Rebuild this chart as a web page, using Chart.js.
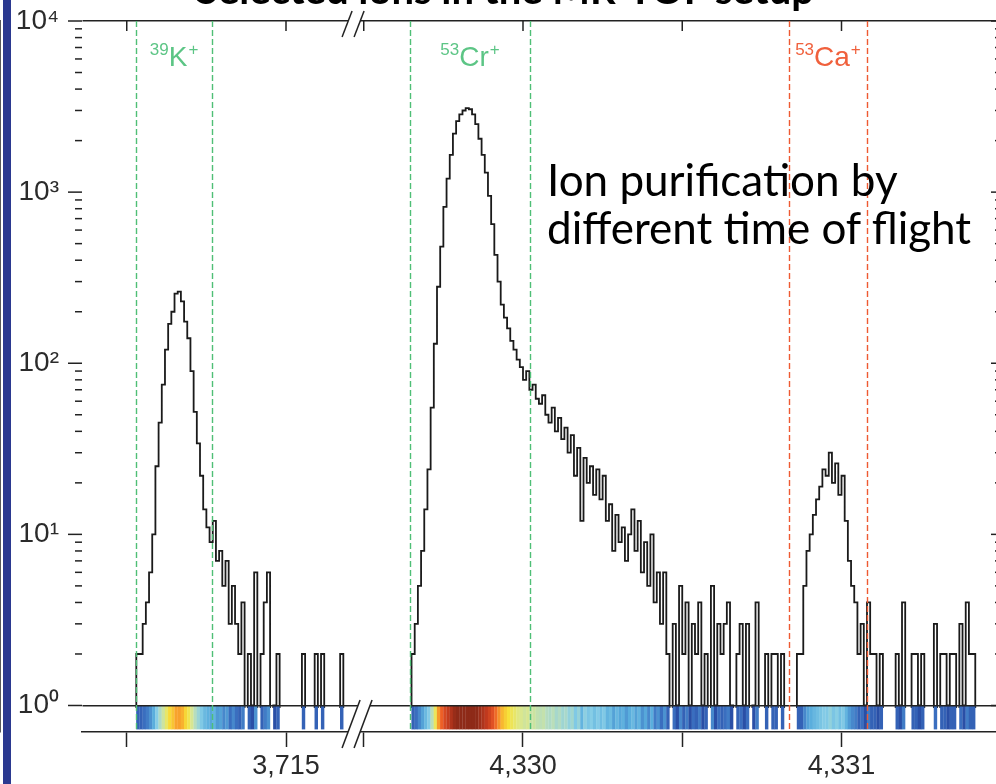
<!DOCTYPE html>
<html>
<head>
<meta charset="utf-8">
<script src="https://cdn.jsdelivr.net/npm/chart.js@4/dist/chart.umd.min.js"></script>
<style>
  html, body { margin:0; padding:0; background:#fff; }
  body { width:996px; height:784px; overflow:hidden; position:relative; }
  #c { position:absolute; left:0; top:0; }
  #sidebar { position:absolute; left:3px; top:0; width:8px; height:784px; background:#2b3990; }
  #title { position:absolute; left:196px; top:-31px; font:bold 40px Lato, "Open Sans", sans-serif; line-height:40px; color:#000; white-space:nowrap; }
  #note { position:absolute; left:547px; top:155px; font:44px Lato, "Open Sans", sans-serif; line-height:48px; color:#000; white-space:nowrap; }
</style>
</head>
<body>
<canvas id="c" width="1000" height="784"></canvas>
<div id="sidebar"></div>
<div id="title">Selected ions in the MR-TOF setup</div>
<div id="note">Ion purification by<br>different time of flight</div>
<script>
// ---------------- data ----------------
const BIN_WIDTH = 0.01;            // time-of-flight bin width
const LEFT_START = 3714.52;        // first bin of the left (39K) segment
const RIGHT_START = 4329.64;       // first bin of the right (53Cr / 53Ca) segment
const AXIS_SHIFT = 614.2559;       // axis break: right segment drawn shifted left by this amount
const BREAK_AT = 3715.22;          // where the "//" axis-break marks sit

const leftCounts = [0,2,2,3,4,6,10,25,45,75,120,170,200,255,262,230,175,140,90,52,
  34,22,14,11,9,12,7,8,5,7,3,5,3,2,4,0,2,1,6,0,
  2,4,6,0,1,2,0,0,0,0,0,0,0,2,0,0,0,2,0,2,
  0,0,0,0,0,2,0];

const rightCounts = [0,2,3,5,8,14,24,55,130,280,480,820,1200,1650,2200,2600,2850,3000,3100,3050,
  2850,2500,2050,1650,1300,950,650,430,300,220,185,160,135,120,105,95,80,90,70,75,
  62,58,65,50,45,55,40,48,36,42,30,38,22,32,12,28,20,25,17,24,
  16,22,12,15,8,13,9,11,7,10,14,8,12,6,9,5,10,4,6,3,
  6,2,0,3,1,5,2,4,1,3,2,4,1,2,0,5,1,3,2,3,
  4,1,0,2,3,1,3,0,1,4,0,0,2,0,2,2,0,2,0,0,
  0,0,2,2,5,8,10,13,16,19,24,22,30,20,26,17,22,12,7,5,
  4,2,3,1,4,2,2,1,2,0,0,0,0,2,1,4,0,0,2,2,
  1,2,0,0,0,3,0,2,2,1,2,2,0,3,1,4,2,2,0];

// x-axis ticks (time of flight) and their labels
const xTickTimes  = [3714.5, 3715, 4329.5, 4330, 4330.5, 4331];
const xTickLabels = ['', '3,715', '', '4,330', '', '4,331'];

// y-axis decades and labels
const yMajorTicks = [1, 10, 100, 1000, 10000];
const yTickLabels = ['10\u2070', '10\u00B9', '10\u00B2', '10\u00B3', '10\u2074'];
const yMinorFactors = [2, 3, 4, 5, 6, 7, 8, 9];

// selection windows
const windowMass  = ['39', '53', '53'];
const windowElem  = ['K', 'Cr', 'Ca'];
const windowStart = [3714.529, 4329.645, 4330.835];
const windowEnd   = [3714.768, 4330.022, 4331.080];
const windowColor = ['#4fbf76', '#4fbf76', '#ee5a32'];
const windowTextColor = ['#5cc585', '#5cc585', '#f0603c'];

// ---------------- helpers ----------------
const toAxis = t => (t > 4000 ? t - AXIS_SHIFT : t);
const Y_MIN = 0.7248;   // bottom of the colour strip under 10^0
const ZERO_LEVEL = 0.3; // empty bins drop below the 10^0 line

function buildLine() {
  const pts = [];
  const add = (start, counts) => {
    counts.forEach((c, i) => pts.push({x: toAxis(start + i * BIN_WIDTH), y: c > 0 ? c : ZERO_LEVEL}));
    const last = counts[counts.length - 1];
    pts.push({x: toAxis(start + counts.length * BIN_WIDTH), y: last > 0 ? last : ZERO_LEVEL});
  };
  add(LEFT_START, leftCounts);
  pts.push({x: toAxis(LEFT_START + (leftCounts.length + 0.5) * BIN_WIDTH), y: null});
  add(RIGHT_START, rightCounts);
  return pts;
}

const stops = [[0,[42,79,166]],[0.5,[59,111,192]],[1.0,[90,174,221]],[1.4,[134,205,230]],[1.7,[181,220,192]],
  [2.0,[221,232,138]],[2.2,[247,226,58]],[2.4,[248,165,44]],[2.7,[236,90,38]],[3.1,[194,58,30]],[3.4,[142,42,24]]];
function stripColor(c) {
  const v = Math.log10(c);
  if (v <= stops[0][0]) return `rgb(${stops[0][1].join(',')})`;
  for (let i = 1; i < stops.length; i++) {
    if (v <= stops[i][0]) {
      const [a, ca] = stops[i-1], [b, cb] = stops[i];
      const f = (v - a) / (b - a);
      const rgb = ca.map((x, k) => Math.round(x + (cb[k] - x) * f));
      return `rgb(${rgb.join(',')})`;
    }
  }
  return `rgb(${stops[stops.length-1][1].join(',')})`;
}
function buildStrip() {
  const pts = [], cols = [];
  const add = (start, counts) => counts.forEach((c, i) => {
    if (c > 0) {
      pts.push({x: toAxis(start + (i + 0.5) * BIN_WIDTH), y: [Y_MIN, 1]});
      cols.push(stripColor(c));
    }
  });
  add(LEFT_START, leftCounts);
  add(RIGHT_START, rightCounts);
  return {pts, cols};
}
const strip = buildStrip();

// ---------------- decorations drawn through the scales ----------------
const decor = {
  id: 'decor',
  afterDraw(chart) {
    const {ctx, chartArea: a, scales: {x, y}} = chart;
    const line = (x1, y1, x2, y2) => { ctx.beginPath(); ctx.moveTo(x1, y1); ctx.lineTo(x2, y2); ctx.stroke(); };
    ctx.save();
    // selection windows
    ctx.lineWidth = 1.4;
    ctx.setLineDash([6, 3]);
    windowStart.forEach((s, i) => {
      ctx.strokeStyle = windowColor[i];
      [s, windowEnd[i]].forEach(t => { const px = Math.round(x.getPixelForValue(toAxis(t))) + 0.5; line(px, a.top, px, a.bottom); });
    });
    ctx.setLineDash([]);
    // window labels
    windowStart.forEach((s, i) => {
      const cx = (x.getPixelForValue(toAxis(s)) + x.getPixelForValue(toAxis(windowEnd[i]))) / 2;
      const big = '28px "Liberation Sans", Arial, sans-serif', small = '17px "Liberation Sans", Arial, sans-serif';
      ctx.font = small; const w1 = ctx.measureText(windowMass[i]).width, w3 = ctx.measureText('+').width;
      ctx.font = big; const w2 = ctx.measureText(windowElem[i]).width;
      let px = cx - (w1 + w2 + w3 + 1) / 2;
      ctx.fillStyle = windowTextColor[i];
      ctx.textBaseline = 'alphabetic'; ctx.textAlign = 'left';
      ctx.font = small; ctx.fillText(windowMass[i], px, 55); px += w1;
      ctx.font = big; ctx.fillText(windowElem[i], px, 66); px += w2 + 1;
      ctx.font = small; ctx.fillText('+', px, 55);
    });
    // y ticks (left outside, right inside)
    ctx.strokeStyle = '#222'; ctx.lineWidth = 1.5;
    yMajorTicks.forEach((v, k) => {
      const py = y.getPixelForValue(v);
      line(a.left - 14, py, a.left, py);
      line(a.right - 8, py, a.right, py);
      if (k < yMajorTicks.length - 1) yMinorFactors.forEach(f => {
        const pm = y.getPixelForValue(v * f);
        line(a.left - 7, pm, a.left, pm);
        line(a.right - 4, pm, a.right, pm);
      });
    });
    // top x ticks (inside)
    xTickTimes.forEach(t => { const px = x.getPixelForValue(toAxis(t)); line(px, a.top, px, a.top + 10); });
    // axis break marks
    const bx = x.getPixelForValue(BREAK_AT);
    const brk = (yb, yt, dx) => {
      ctx.fillStyle = '#fff';
      ctx.beginPath();
      ctx.moveTo(bx - 14, yb); ctx.lineTo(bx - 14 + dx, yt); ctx.lineTo(bx - 2 + dx, yt); ctx.lineTo(bx - 2, yb); ctx.closePath();
      ctx.fill();
      ctx.strokeStyle = '#222'; ctx.lineWidth = 1.5;
      line(bx - 14, yb, bx - 14 + dx, yt);
      line(bx - 2, yb, bx - 2 + dx, yt);
    };
    brk(a.bottom + 16, a.bottom - 32, 18);
    brk(a.top + 16, a.top - 10, 10);
    ctx.restore();
  }
};

// ---------------- chart ----------------
new Chart(document.getElementById('c'), {
  type: 'line',
  data: {
    datasets: [
      {
        type: 'line', data: buildLine(), stepped: 'before', borderColor: '#1a1a1a', borderWidth: 1.8,
        pointRadius: 0, spanGaps: false, order: 1,
        clip: {left: 0, top: 0, right: 0, bottom: -24}
      },
      {
        type: 'bar', data: strip.pts, backgroundColor: strip.cols, borderWidth: 0,
        barPercentage: 1.08, categoryPercentage: 1, grouped: false, order: 0
      }
    ]
  },
  options: {
    responsive: false, animation: false, devicePixelRatio: 1,
    layout: {padding: {top: 21, right: 1, left: 0, bottom: 0}},
    plugins: {legend: {display: false}, tooltip: {enabled: false}},
    scales: {
      x: {
        type: 'linear', min: 3714.3595, max: 3717.2386, offset: false,
        afterFit(s) { s.height = 52; s.paddingLeft = 0; s.paddingRight = 0; },
        afterBuildTicks(s) { s.ticks = xTickTimes.map(t => ({value: toAxis(t)})); },
        ticks: {autoSkip: false, maxRotation: 0, callback: (v, i) => xTickLabels[i],
          font: {family: '"Liberation Sans", Arial, sans-serif', size: 27}, color: '#2b2b2b', padding: 3},
        grid: {offset: false, drawOnChartArea: false, drawTicks: true, tickLength: 15, tickColor: '#222', tickWidth: 1.5, color: '#222'},
        border: {display: true, color: '#222', width: 1.5}
      },
      y: {
        type: 'logarithmic', min: Y_MIN, max: 10000,
        afterFit(s) { s.width = 82; s.paddingTop = 0; s.paddingBottom = 0; },
        afterBuildTicks(s) { s.ticks = yMajorTicks.map(v => ({value: v, major: true})); },
        ticks: {callback: v => { const k = yMajorTicks.indexOf(v); return k >= 0 ? yTickLabels[k] : ''; },
          font: {family: '"Liberation Sans", Arial, sans-serif', size: 28}, color: '#2b2b2b', padding: 23},
        grid: {drawTicks: false, z: 1, lineWidth: 1.5,
          color: c => (c.tick && (c.tick.value === 1 || c.tick.value === 10000)) ? '#222' : 'rgba(0,0,0,0)'},
        border: {display: true, color: '#222', width: 1.5}
      }
    }
  },
  plugins: [decor]
});
</script>
</body>
</html>
